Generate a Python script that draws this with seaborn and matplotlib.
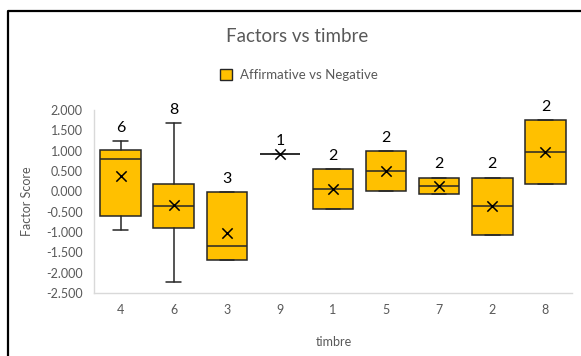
import numpy as np
import pandas as pd
import matplotlib
matplotlib.use("Agg")
import matplotlib.pyplot as plt
import seaborn as sns
from matplotlib.lines import Line2D
from matplotlib.patches import Patch

# Factor scores (Affirmative vs Negative) grouped by timbre
timbre = ["4", "6", "3", "9", "1", "5", "7", "2", "8"]
scores_4 = [-0.96, -0.49, 0.72, 0.86, 0.94, 1.23]
scores_6 = [-2.24, -0.98, -0.70, -0.45, -0.25, 0.075, 0.215, 1.69]
scores_3 = [-1.69, -1.34, -0.01]
scores_9 = [0.91]
scores_1 = [-0.44, 0.55]
scores_5 = [0.02, 0.98]
scores_7 = [-0.07, 0.34]
scores_2 = [-1.07, 0.34]
scores_8 = [0.18, 1.75]
groups = [scores_4, scores_6, scores_3, scores_9, scores_1,
          scores_5, scores_7, scores_2, scores_8]
y_ticks = [2.0, 1.5, 1.0, 0.5, 0.0, -0.5, -1.0, -1.5, -2.0, -2.5]

df = pd.DataFrame({
    "timbre": np.repeat(timbre, [len(g) for g in groups]),
    "score": np.concatenate(groups),
})

GOLD = "#FFC000"
EDGE = "#262626"
GREY = "#595959"

sns.set_theme(style="white")
plt.rcParams["font.family"] = ["Lato", "DejaVu Sans"]

fig = plt.figure(figsize=(5.81, 3.56), dpi=100)
ax = fig.add_axes([94 / 581, 1 - 293 / 356, (572 - 94) / 581, (293 - 110) / 356])

# Box statistics using exclusive quartiles (n+1 positions)
stats = []
positions = np.arange(len(timbre))
for name in timbre:
    v = np.sort(df.loc[df["timbre"] == name, "score"].to_numpy())
    q1, med, q3 = np.percentile(v, [25, 50, 75], method="weibull")
    iqr = q3 - q1
    lo = v[v >= q1 - 1.5 * iqr].min()
    hi = v[v <= q3 + 1.5 * iqr].max()
    stats.append(dict(q1=q1, med=med, q3=q3, whislo=lo, whishi=hi,
                      fliers=[], mean=v.mean(), n=len(v)))

ax.bxp(stats, positions=positions, widths=0.76, capwidths=0.27,
       patch_artist=True, showfliers=False,
       boxprops=dict(facecolor=GOLD, edgecolor=EDGE, linewidth=1.1),
       medianprops=dict(color=EDGE, linewidth=1.1),
       whiskerprops=dict(color=EDGE, linewidth=1.1),
       capprops=dict(color=EDGE, linewidth=1.1))

means = pd.DataFrame({"pos": positions, "mean": [s["mean"] for s in stats]})
sns.scatterplot(data=means, x="pos", y="mean", marker="x", color="black",
                s=55, linewidth=1.1, ax=ax, zorder=5, legend=False)

# Count labels above each box
for p, s in zip(positions, stats):
    ax.annotate(str(s["n"]), (p, s["whishi"]), xytext=(0, 6.5),
                textcoords="offset points", ha="center", va="baseline",
                fontsize=11.5, color="black")

ax.set_xlim(-0.5, len(timbre) - 0.5)
ax.set_ylim(-2.5, 2.0)
ax.set_xticks(positions)
ax.set_xticklabels(timbre)
ax.set_yticks(y_ticks)
ax.set_yticklabels([f"{t:.3f}" for t in y_ticks])
ax.tick_params(axis="both", length=0, labelsize=9, labelcolor=GREY)
ax.tick_params(axis="x", pad=8)
ax.tick_params(axis="y", pad=8)
for side in ["top", "right"]:
    ax.spines[side].set_visible(False)
for side in ["left", "bottom"]:
    ax.spines[side].set_color("#D9D9D9")
    ax.spines[side].set_linewidth(1.0)
ax.set_xlabel("")
ax.set_ylabel("")

fig.text(27 / 581, 1 - 201 / 356, "Factor Score", rotation=90, ha="center",
         va="center", fontsize=9, color=GREY)
fig.text(334 / 581, 1 - 342 / 356, "timbre", ha="center", va="center",
         fontsize=9, color=GREY)
fig.text(297 / 581, 1 - 36 / 356, "Factors vs timbre", ha="center",
         va="center", fontsize=13.5, color=GREY)

handle = Patch(facecolor=GOLD, edgecolor=EDGE, linewidth=1.0)
fig.legend([handle], ["Affirmative vs Negative"], loc="center",
           bbox_to_anchor=(299 / 581, 1 - 75 / 356), frameon=False,
           fontsize=9.5, labelcolor=GREY, handlelength=0.85,
           handleheight=0.85, handletextpad=0.6)

# Chart frame on the left and top edges
x0, y0 = 7.5 / 581, 1 - 11 / 356
fig.add_artist(Line2D([x0, x0, 1.0], [0.0, y0, y0], transform=fig.transFigure,
                      color="black", linewidth=1.6))

fig.savefig("out.png", dpi=100)
